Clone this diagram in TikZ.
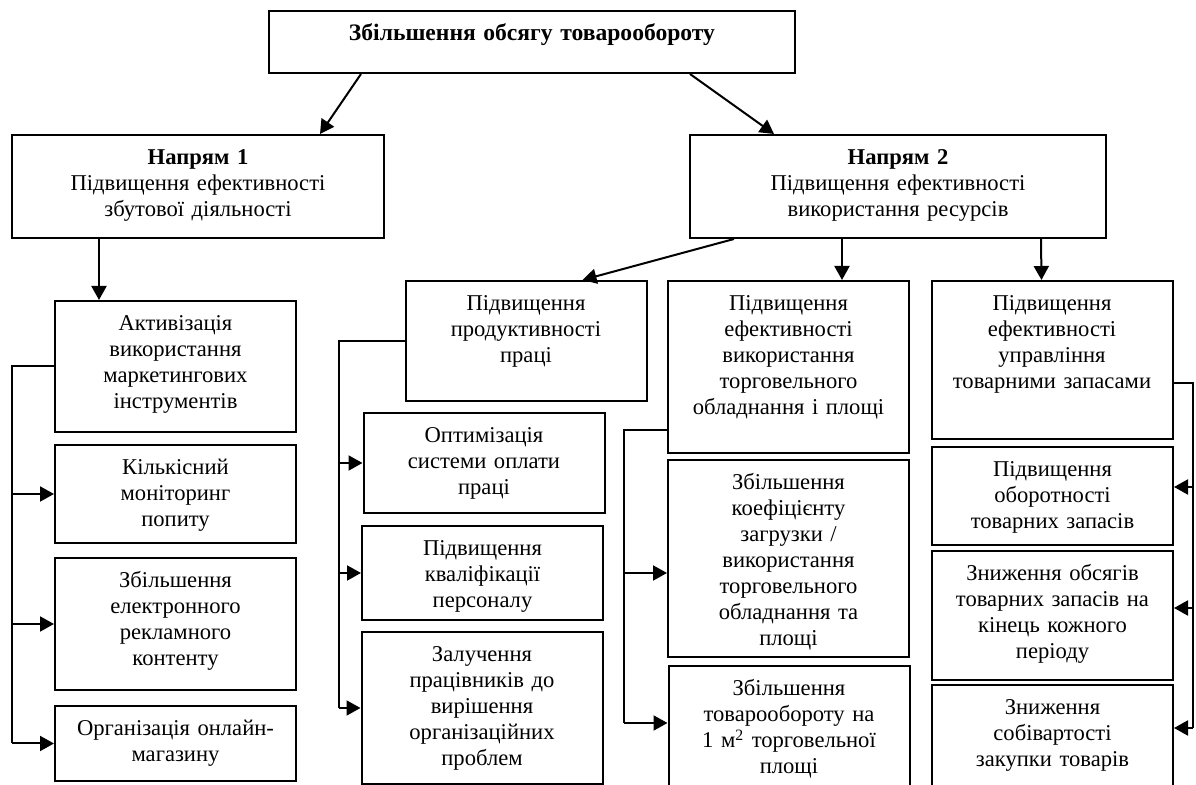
\documentclass[tikz,border=0pt]{standalone}
\usepackage{fontspec}
\setmainfont{Liberation Serif}
\usetikzlibrary{arrows.meta}

\tikzset{
  box/.style={draw, line width=1pt, anchor=north, align=center, inner sep=0pt,
    text width=120.5pt, text height=15pt, font=\fontsize{11.3}{13}\selectfont},
  arr/.style={line width=1pt, -{Triangle[length=7pt,width=7.5pt]}},
  bus/.style={line width=1pt},
}

\begin{document}
\begin{tikzpicture}[x=0.5pt, y=-0.5pt]
  \useasboundingbox (0,0) rectangle (1196,785);

  \node[box, text width=263pt, text depth=16pt] (goal) at (532,10) {\textbf{\fontsize{11.8}{13}\selectfont Збільшення обсягу товарообороту}};
  \node[box, text width=186pt, text depth=36.5pt] (dir1) at (198,134) {\textbf{Напрям 1}\\Підвищення ефективності\\збутової діяльності};
  \node[box, text width=208pt, text depth=36.5pt] (dir2) at (898,134) {\textbf{Напрям 2}\\Підвищення ефективності\\використання ресурсів};

  \node[box, text depth=50.5pt] (mkt) at (175.5,300) {Активізація\\використання\\маркетингових\\інструментів};
  \node[box, text depth=34pt] (mon) at (175.5,444) {Кількісний\\моніторинг\\попиту};
  \node[box, text depth=51pt] (ads) at (175.5,557) {Збільшення\\електронного\\рекламного\\контенту};
  \node[box, text depth=22.5pt] (shop) at (175.5,705) {Організація онлайн-\\магазину};

  \node[box, text depth=45pt] (prod) at (526,280) {Підвищення\\продуктивності\\праці};
  \node[box, text depth=35pt] (pay) at (484,412) {Оптимізація\\системи оплати\\праці};
  \node[box, text depth=32pt] (qual) at (482.5,525) {Підвищення\\кваліфікації\\персоналу};
  \node[box, text depth=61pt] (staff) at (482,631) {Залучення\\працівників до\\вирішення\\організаційних\\проблем};

  \node[box, text depth=71pt] (equip) at (788.5,280) {Підвищення\\ефективності\\використання\\торговельного\\обладнання і площі};
  \node[box, text depth=83.5pt] (load) at (788.5,459) {Збільшення\\коефіцієнту\\загрузки /\\використання\\торговельного\\обладнання та\\площі};
  \node[box, text depth=55pt] (turn) at (789,665) {Збільшення\\товарообороту на\\1 м\textsuperscript{2} торговельної\\площі};

  \node[box, text depth=64pt] (stock) at (1052,280) {Підвищення\\ефективності\\управління\\товарними запасами};
  \node[box, text depth=34pt] (rot) at (1052.5,446) {Підвищення\\оборотності\\товарних запасів};
  \node[box, text depth=49.5pt] (cut) at (1052.5,550) {Зниження обсягів\\товарних запасів на\\кінець кожного\\періоду};
  \node[box, text depth=45pt] (cost) at (1052.5,684) {Зниження\\собівартості\\закупки товарів};

  \draw[arr] ([xshift=46.5pt]goal.south west) -- ([xshift=154.5pt]dir1.north west);
  \draw[arr] ([xshift=211pt]goal.south west) -- ([xshift=42.5pt]dir2.north west);
  \draw[arr] ([xshift=44pt]dir1.south west) -- ([xshift=22.5pt]mkt.north west);
  \draw[arr] ([xshift=22.5pt]dir2.south west) -- ([xshift=89pt]prod.north west);
  \draw[arr] ([xshift=76.5pt]dir2.south west) -- ([xshift=87.5pt]equip.north west);
  \draw[arr] ([xshift=176pt]dir2.south west) -- ([xshift=55.5pt]stock.north west);

  \coordinate (busA) at (12,0);
  \draw[bus] (mkt.west) -| (busA |- shop.west);
  \foreach \n in {mon,ads,shop}
    \draw[arr] (busA |- \n.west) -- (\n.west);

  \coordinate (busB) at (339,0);
  \draw[bus] (prod.west) -| (busB |- staff.west);
  \foreach \n in {pay,qual,staff}
    \draw[arr] (busB |- \n.west) -- (\n.west);

  \coordinate (busC) at (624,0);
  \coordinate (loadin) at ([yshift=-57pt]load.north west);
  \coordinate (turnin) at ([yshift=-29pt]turn.north west);
  \draw[bus] ([yshift=12pt]equip.south west) -| (busC |- turnin);
  \foreach \n in {loadin,turnin}
    \draw[arr] (busC |- \n) -- (\n);

  \coordinate (busD) at (1193,0);
  \coordinate (rotin) at ([yshift=-20.5pt]rot.north east);
  \coordinate (cutin) at ([yshift=-29pt]cut.north east);
  \coordinate (costin) at ([yshift=-22pt]cost.north east);
  \draw[bus] ([yshift=-51.5pt]stock.north east) -| (busD |- costin);
  \foreach \n in {rotin,cutin,costin}
    \draw[arr] (busD |- \n) -- (\n);
\end{tikzpicture}
\end{document}
